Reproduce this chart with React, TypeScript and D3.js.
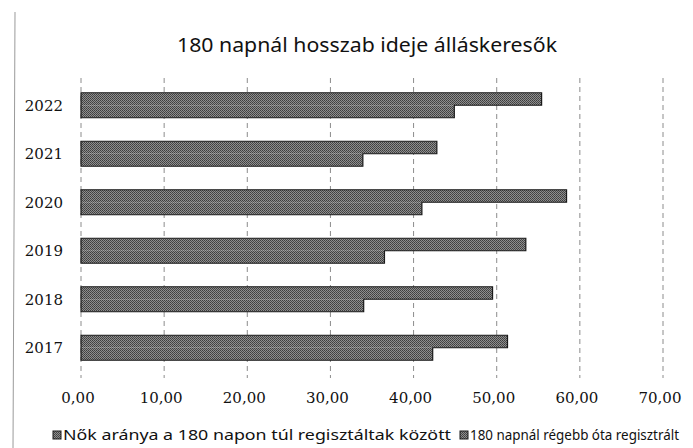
import * as d3 from 'd3';

// values
const years = ['2017', '2018', '2019', '2020', '2021', '2022'];
const nokAranya = [42.3, 34.0, 36.5, 41.0, 33.9, 44.9];
const regisztralt = [51.3, 49.5, 53.5, 58.4, 42.8, 55.4];
const xTicks = [0, 10, 20, 30, 40, 50, 60, 70];

const seriesNames = [
  'Nők aránya a 180 napon túl regisztáltak között',
  '180 napnál régebb óta regisztrált',
];
const title = '180 napnál hosszab ideje álláskeresők';

export default function App() {
  const width = 693;
  const height = 448;

  const x = d3.scaleLinear().domain([0, 70]).range([81, 663]);
  const y = d3
    .scaleBand()
    .domain([...years].reverse())
    .range([81, 372])
    .paddingInner(0.485)
    .paddingOuter(0.2425);
  // excel puts the first series at the bottom of each group
  const inner = d3.scaleBand().domain(['reg', 'nok']).range([0, y.bandwidth()]);

  const fmt = (v: number) => d3.format('.2f')(v).replace('.', ',');

  const bars = years.flatMap((yr, i) => [
    { key: 'nok', year: yr, value: nokAranya[i] },
    { key: 'reg', year: yr, value: regisztralt[i] },
  ]);

  // outline of the two bars of a year, drawn as one shape like in the scan
  const outline = (i: number) => {
    const yr = years[i];
    const top = (y(yr) ?? 0) + (inner('reg') ?? 0);
    const mid = (y(yr) ?? 0) + (inner('nok') ?? 0);
    const bottom = mid + inner.bandwidth();
    const p = d3.path();
    p.moveTo(x(0), top);
    p.lineTo(x(regisztralt[i]), top);
    p.lineTo(x(regisztralt[i]), mid);
    p.lineTo(x(nokAranya[i]), mid);
    p.lineTo(x(nokAranya[i]), bottom);
    p.lineTo(x(0), bottom);
    p.closePath();
    return p.toString();
  };

  return (
    <svg width={width} height={height} style={{ position: 'absolute', left: 0, top: 0, background: '#fff' }}>
      <defs>
        <pattern id="halftone" width="2" height="2" patternUnits="userSpaceOnUse">
          <rect width="2" height="2" fill="#8e8e8e" />
          <rect x="0" y="0" width="1" height="1" fill="#3e3e3e" />
          <rect x="1" y="1" width="1" height="1" fill="#4a4a4a" />
        </pattern>
      </defs>

      {/* edge of the scanned chart frame */}
      <line x1={15} x2={13} y1={12} y2={448} stroke="#9a9a9a" strokeWidth={1} />

      <text
        x={367}
        y={52}
        textAnchor="middle"
        fontFamily="'Noto Sans', sans-serif"
        fontSize={20}
        textLength={380}
        lengthAdjust="spacingAndGlyphs"
        fill="#111"
      >
        {title}
      </text>

      {xTicks.map((t) => (
        <line
          key={'g' + t}
          x1={x(t)}
          x2={x(t)}
          y1={78}
          y2={378}
          stroke="#8c8c8c"
          strokeWidth={1}
          strokeDasharray="5,4"
        />
      ))}

      {bars.map((b) => (
        <rect
          key={b.key + b.year}
          x={x(0)}
          y={(y(b.year) ?? 0) + (inner(b.key) ?? 0)}
          width={x(b.value) - x(0)}
          height={inner.bandwidth()}
          fill="url(#halftone)"
        />
      ))}
      {years.map((yr, i) => (
        <path key={'o' + yr} d={outline(i)} fill="none" stroke="#1a1a1a" strokeWidth={1.2} />
      ))}

      {years.map((yr) => (
        <text
          key={'y' + yr}
          x={63}
          y={(y(yr) ?? 0) + y.bandwidth() / 2}
          dy="0.35em"
          textAnchor="end"
          fontFamily="'DejaVu Serif', serif"
          fontSize={15}
          fill="#111"
        >
          {yr}
        </text>
      ))}

      {xTicks.map((t) => (
        <text
          key={'t' + t}
          x={x(t) - 3}
          y={403}
          textAnchor="middle"
          fontFamily="'DejaVu Serif', serif"
          fontSize={15}
          fill="#111"
        >
          {fmt(t)}
        </text>
      ))}

      {/* legend */}
      <rect x={53} y={431} width={8} height={8} fill="url(#halftone)" stroke="#1a1a1a" />
      <text
        x={63}
        y={440}
        fontFamily="'Noto Sans', sans-serif"
        fontSize={14}
        textLength={388}
        lengthAdjust="spacingAndGlyphs"
        fill="#111"
      >
        {seriesNames[0]}
      </text>
      <rect x={460} y={431} width={8} height={8} fill="url(#halftone)" stroke="#1a1a1a" />
      <text
        x={470}
        y={440}
        fontFamily="'Noto Sans', sans-serif"
        fontSize={14}
        textLength={209}
        lengthAdjust="spacingAndGlyphs"
        fill="#111"
      >
        {seriesNames[1]}
      </text>
    </svg>
  );
}
